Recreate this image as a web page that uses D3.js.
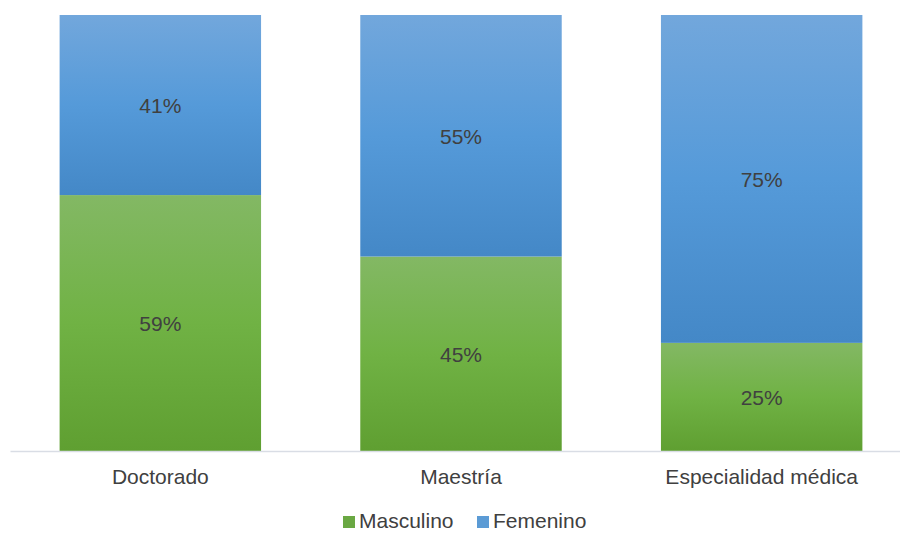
<!DOCTYPE html>
<html>
<head>
<meta charset="utf-8">
<script src="https://cdn.jsdelivr.net/npm/d3@7"></script>
<style>
    body { margin: 0; background: #fff; }
    text { font-family: "Liberation Sans", Arial, sans-serif; fill: #404040; }
</style>
</head>
<body>
<div id="chart"></div>
<script>
// data (labels are the rounded percentages)
let categories = ["Doctorado", "Maestría", "Especialidad médica"];
let masculino = [58.7, 44.6, 24.8];
let femenino = [41.3, 55.4, 75.2];
let seriesNames = ["Masculino", "Femenino"];

let width = 900, height = 533;
let margin = {top: 15, left: 10, right: -12, bottom: 82};

let svg = d3.select("#chart").append("svg")
    .attr("width", width)
    .attr("height", height);

let defs = svg.append("defs");
function addGradient(id, stops){
    let g = defs.append("linearGradient")
        .attr("id", id)
        .attr("x1", 0).attr("y1", 0).attr("x2", 0).attr("y2", 1);
    stops.forEach(function(s){
        g.append("stop").attr("offset", s[0]).attr("stop-color", s[1]);
    });
}
addGradient("gradBlue", [[0, "#72a7dc"], [0.5, "#559ad9"], [1, "#4488c7"]]);
addGradient("gradGreen", [[0, "#83b864"], [0.5, "#70b244"], [1, "#5f9f31"]]);

let x = d3.scaleBand()
    .domain(categories)
    .range([margin.left, width - margin.right])
    .paddingInner(0.33)
    .paddingOuter(0.165);

let y = d3.scaleLinear()
    .domain([0, 100])
    .range([height - margin.bottom, margin.top]);

let stackData = categories.map(function(c, i){
    return {cat: c, Masculino: masculino[i], Femenino: femenino[i]};
});
let stack = d3.stack().keys(seriesNames)(stackData);
let fills = {Masculino: "url(#gradGreen)", Femenino: "url(#gradBlue)"};
let legendColors = {Masculino: "#6aa843", Femenino: "#5b9bd5"};

let layers = svg.selectAll(".layer")
    .data(stack)
    .enter().append("g")
    .attr("class", "layer");

layers.selectAll("rect")
    .data(function(d){ return d.map(function(p){ return {key: d.key, p: p}; }); })
    .enter().append("rect")
    .attr("x", function(d){ return x(d.p.data.cat); })
    .attr("width", x.bandwidth())
    .attr("y", function(d){ return y(d.p[1]); })
    .attr("height", function(d){ return y(d.p[0]) - y(d.p[1]); })
    .attr("fill", function(d){ return fills[d.key]; });

layers.selectAll("text")
    .data(function(d){ return d.map(function(p){ return {key: d.key, p: p}; }); })
    .enter().append("text")
    .attr("x", function(d){ return x(d.p.data.cat) + x.bandwidth() / 2; })
    .attr("y", function(d){ return (y(d.p[0]) + y(d.p[1])) / 2 + 8; })
    .attr("text-anchor", "middle")
    .style("font-size", "21px")
    .text(function(d){ return Math.round(d.p[1] - d.p[0]) + "%"; });

// x axis
let axis = svg.append("g")
    .attr("transform", "translate(0," + y(0) + ")")
    .call(d3.axisBottom(x).tickSize(0).tickPadding(18));
axis.select(".domain").attr("stroke", "#d9dde5").attr("stroke-width", 1.5);
axis.selectAll("text")
    .style("font-size", "21px")
    .style("font-family", "'Liberation Sans', Arial, sans-serif")
    .attr("fill", "#404040");

// legend
let legend = svg.append("g").attr("transform", "translate(0,528)");
let legendX = [343, 477];
seriesNames.forEach(function(name, i){
    let item = legend.append("g").attr("transform", "translate(" + legendX[i] + ",0)");
    item.append("rect")
        .attr("x", 0).attr("y", -12)
        .attr("width", 12).attr("height", 12)
        .attr("fill", legendColors[name]);
    item.append("text")
        .attr("x", 16).attr("y", 0)
        .style("font-size", "21px")
        .text(name);
});
</script>
</body>
</html>
